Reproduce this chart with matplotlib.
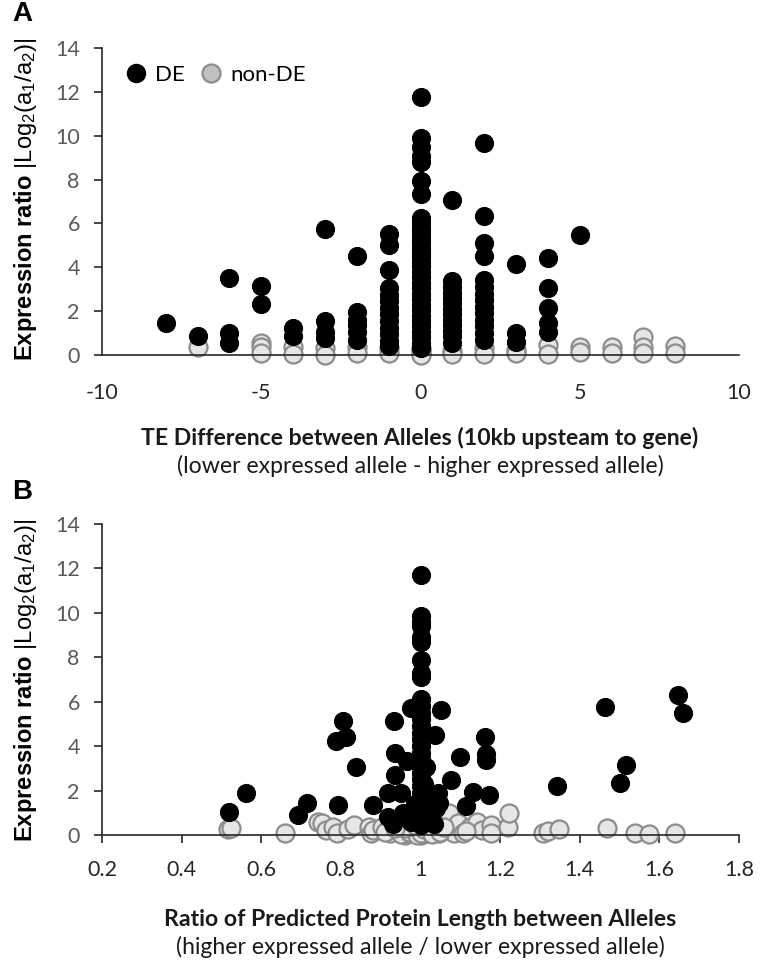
import matplotlib
matplotlib.use("Agg")
import matplotlib.pyplot as plt
from matplotlib.lines import Line2D

# ---------------- data ----------------
# Panel A: TE difference (x) vs expression ratio (y)
a_de_x = ([-8] + [-7] + [-6]*3 + [-5]*2 + [-4]*2 + [-3]*4 + [-2]*6 + [-1]*13 +
          [0]*34 + [1]*13 + [2]*14 + [3]*3 + [4]*5 + [5])
a_de_y = ([1.48] +
          [0.87] +
          [3.51, 0.99, 0.53] +
          [3.16, 2.34] +
          [1.22, 0.87] +
          [5.73, 1.53, 1.07, 0.76] +
          [4.53, 1.98, 1.60, 1.37, 1.07, 0.69] +
          [5.50, 5.00, 3.86, 3.05, 2.75, 2.45, 2.15, 1.85, 1.55, 1.25, 0.95, 0.65, 0.40] +
          [11.76, 9.90, 9.47, 9.08, 8.78, 7.94, 7.33, 6.26, 6.05, 5.85, 5.65, 5.45,
           5.25, 5.05, 4.85, 4.65, 4.45, 4.25, 4.05, 3.80, 3.55, 3.30, 3.05, 2.80,
           2.55, 2.30, 2.05, 1.80, 1.55, 1.30, 1.05, 0.80, 0.55, 0.30] +
          [7.05, 3.36, 3.10, 2.85, 2.60, 2.35, 2.10, 1.85, 1.60, 1.35, 1.10, 0.85, 0.55] +
          [9.69, 6.34, 5.11, 4.50, 3.44, 3.10, 2.80, 2.50, 2.20, 1.90, 1.60, 1.30, 1.00, 0.69] +
          [4.17, 0.99, 0.61] +
          [4.43, 3.05, 2.14, 1.48, 1.07] +
          [5.45])
a_non_x = ([-7] + [-5]*3 + [-4]*2 + [-3]*2 + [-2]*2 + [-1]*2 + [0]*4 + [1]*2 +
           [2]*2 + [3]*2 + [4]*2 + [5]*2 + [6]*2 + [7]*3 + [8]*2)
a_non_y = ([0.38] + [0.56, 0.38, 0.08] + [0.38, 0.03] + [0.30, 0.00] + [0.35, 0.08] +
           [0.30, 0.08] + [0.30, 0.20, 0.08, 0.00] + [0.20, 0.05] + [0.30, 0.05] +
           [0.23, 0.08] + [0.46, 0.06] + [0.35, 0.15] + [0.38, 0.10] + [0.84, 0.38, 0.08] +
           [0.41, 0.08])

# Panel B: protein length ratio (x) vs expression ratio (y)
b_de_x = [0.518, 0.561, 0.692, 0.716, 0.792, 0.787, 0.812, 0.805, 0.839, 0.881,
          0.919, 0.919, 0.935, 0.935, 0.933, 0.951, 0.967, 0.975, 0.930, 0.955,
          0.975, 0.985, 1.025, 1.035, 1.040, 1.015,
          1.0, 1.0, 1.0, 1.0, 1.0, 1.0, 1.0, 1.0, 1.0, 1.0, 1.0, 1.0, 1.0, 1.0,
          1.0, 1.0, 1.0, 1.0, 1.0, 1.0, 1.0, 1.0, 1.0, 1.0, 1.0, 1.0, 1.0, 1.0,
          1.0, 1.01, 1.01, 1.01, 1.01,
          1.052, 1.036, 1.015, 1.044, 1.047, 1.076, 1.100, 1.114, 1.132, 1.161,
          1.165, 1.165, 1.173, 1.343, 1.464, 1.501, 1.517, 1.648, 1.659]
b_de_y = [1.02, 1.88, 0.90, 1.43, 1.35, 4.21, 4.39, 5.11, 3.05, 1.35,
          0.83, 1.88, 2.70, 3.68, 5.14, 1.88, 3.34, 5.71, 0.50, 1.00,
          0.60, 1.40, 0.80, 0.50, 1.20, 2.00,
          11.72, 9.84, 9.60, 9.40, 8.90, 8.70, 7.90, 7.30, 7.10, 6.10, 5.80, 5.50,
          5.20, 4.90, 4.60, 4.30, 4.00, 3.70, 3.40, 3.10, 2.80, 2.50, 2.20, 1.90,
          1.60, 1.30, 1.00, 0.70, 0.45, 3.08, 2.30, 1.50, 0.90,
          5.64, 4.51, 3.08, 1.88, 1.43, 2.48, 3.50, 1.31, 1.95, 4.43,
          3.65, 3.38, 1.80, 2.21, 5.74, 2.36, 3.14, 6.31, 5.48]
b_non_x = [0.516, 0.524, 0.660, 0.743, 0.753, 0.762, 0.780, 0.791, 0.817, 0.833,
           0.871, 0.876, 0.881, 0.903, 0.924, 0.946, 0.962, 0.972, 0.988, 1.001,
           1.020, 1.036, 1.047, 1.063, 1.072, 1.084, 1.093, 1.106, 1.125, 1.141,
           1.154, 1.176, 1.176, 1.221, 1.223, 1.307, 1.320, 1.349, 1.469, 1.538,
           1.573, 1.640, 0.950, 0.970, 0.990, 1.000, 1.010, 1.030, 1.050, 0.960,
           1.060, 0.985, 0.910, 0.935, 1.115]
b_non_y = [0.27, 0.30, 0.11, 0.60, 0.56, 0.23, 0.38, 0.08, 0.26, 0.45,
           0.38, 0.08, 0.23, 0.38, 0.08, 0.23, 0.00, 0.08, 0.23, 0.00,
           0.08, 0.23, 0.08, 0.23, 0.98, 0.08, 0.53, 0.08, 0.38, 0.60,
           0.23, 0.45, 0.11, 0.38, 0.98, 0.08, 0.20, 0.26, 0.30, 0.08,
           0.05, 0.08, 0.05, 0.15, 0.00, 0.10, 0.25, 0.05, 0.15, 0.30,
           0.35, 0.45, 0.15, 0.30, 0.20]

a_xticks = [-10, -5, 0, 5, 10]
b_xticks = [0.2, 0.4, 0.6, 0.8, 1.0, 1.2, 1.4, 1.6, 1.8]
b_xticklabels = ["0.2", "0.4", "0.6", "0.8", "1", "1.2", "1.4", "1.6", "1.8"]
yticks = [0, 2, 4, 6, 8, 10, 12, 14]

# ---------------- style ----------------
plt.rcParams['mathtext.fontset'] = 'custom'
plt.rcParams['mathtext.rm'] = 'Liberation Sans'
plt.rcParams['mathtext.bf'] = 'Liberation Sans:bold'
plt.rcParams['mathtext.it'] = 'Liberation Sans:italic'

W, H = 760, 960
fig = plt.figure(figsize=(7.6, 9.6), dpi=100)

TICKFONT = 'Lato'
TICKCOL = '#595959'
AXCOL = '#262626'
MS = 13  # marker diameter in points
DE_KW = dict(s=MS**2, c='black', edgecolors='black', linewidths=0.8, zorder=3)
NON_KW = dict(s=MS**2, c='#e6e6e6', edgecolors='#8c8c8c', linewidths=1.6, zorder=2)


def px_axes(left, right, y0, y14):
    return [left / W, 1 - y0 / H, (right - left) / W, (y0 - y14) / H]


def style_axes(ax, xticks, xticklabels, xlim, xtick_len, xpad):
    ax.set_ylim(0, 14)
    ax.set_xlim(*xlim)
    ax.set_yticks(yticks)
    ax.set_xticks(xticks)
    ax.set_xticklabels(xticklabels)
    for s in ['top', 'right']:
        ax.spines[s].set_visible(False)
    for s in ['left', 'bottom']:
        ax.spines[s].set_color(AXCOL)
        ax.spines[s].set_linewidth(1.2)
    ax.tick_params(axis='y', direction='out', length=6, width=1.2, color=AXCOL,
                   pad=10, labelsize=15.5, labelcolor=TICKCOL)
    ax.tick_params(axis='x', direction='out', length=xtick_len, width=1.2, color=AXCOL,
                   pad=xpad, labelsize=15.5, labelcolor='#262626')
    for lab in ax.get_xticklabels() + ax.get_yticklabels():
        lab.set_fontfamily(TICKFONT)


# Panel A
axA = fig.add_axes(px_axes(102, 739, 355, 48))
axA.scatter(a_non_x, a_non_y, clip_on=False, **NON_KW)
axA.scatter(a_de_x, a_de_y, clip_on=False, **DE_KW)
style_axes(axA, a_xticks, [str(v) for v in a_xticks], (-10, 10), 0, 20)

# Panel B
axB = fig.add_axes(px_axes(102, 739, 835, 524))
axB.scatter(b_non_x, b_non_y, clip_on=False, **NON_KW)
axB.scatter(b_de_x, b_de_y, clip_on=False, **DE_KW)
style_axes(axB, b_xticks, b_xticklabels, (0.2, 1.8), 6, 12)

# Legend in panel A
handles = [Line2D([], [], ls='none', marker='o', ms=MS, mfc='black', mec='black'),
           Line2D([], [], ls='none', marker='o', ms=MS, mfc='#c0c0c0', mec='#8c8c8c', mew=1.6)]
leg = axA.legend(handles, ['DE', 'non-DE'], ncol=2, loc='center left',
                 bbox_to_anchor=(0.036, 0.912), frameon=False, borderpad=0,
                 borderaxespad=0, handlelength=1.0, handletextpad=0.35,
                 columnspacing=0.7, prop={'family': 'Lato', 'size': 16})

fig.canvas.draw()
renderer = fig.canvas.get_renderer()


def fitted_size(s, target_px, rotation=0, **kw):
    t = fig.text(0, 0, s, rotation=rotation, fontsize=15, **kw)
    bb = t.get_window_extent(renderer)
    length = bb.height if rotation == 90 else bb.width
    t.remove()
    return 15 * target_px / length


ylab = r'$\mathbf{Expression\ ratio}\ |\mathrm{Log}_{2}\mathrm{(a}_{1}\mathrm{/a}_{2}\mathrm{)}|$'
ysize = fitted_size(ylab, 325, rotation=90)
for yc in (199, 680):
    fig.text(26 / W, 1 - yc / H, ylab, rotation=90, ha='center', va='center',
             fontsize=ysize, color='black')

xl_size = fitted_size('TE Difference between Alleles (10kb upsteam to gene)', 561,
                      fontfamily='Lato', fontweight='bold')
XC = 420
xlabels = [(438, 'TE Difference between Alleles (10kb upsteam to gene)', 'bold'),
           (466, '(lower expressed allele - higher expressed allele)', 'normal'),
           (919, 'Ratio of Predicted Protein Length between Alleles', 'bold'),
           (947, '(higher expressed allele / lower expressed allele)', 'normal')]
for yc, s, wgt in xlabels:
    fig.text(XC / W, 1 - yc / H, s, ha='center', va='center', fontsize=xl_size,
             fontfamily='Lato', fontweight=wgt, color='#1a1a1a')

fig.text(22 / W, 1 - 14 / H, 'A', ha='center', va='center', fontsize=20,
         fontweight='bold', fontfamily='Liberation Sans')
fig.text(22 / W, 1 - 492 / H, 'B', ha='center', va='center', fontsize=20,
         fontweight='bold', fontfamily='Liberation Sans')

fig.savefig('out.png', dpi=100)
